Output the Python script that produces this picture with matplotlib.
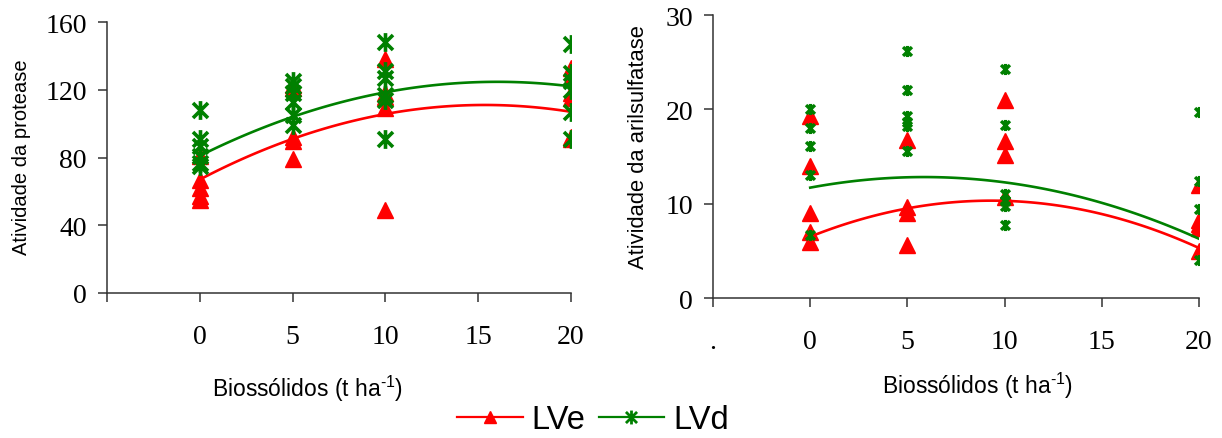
import numpy as np
import matplotlib
matplotlib.use('Agg')
import matplotlib.pyplot as plt
from matplotlib.path import Path
from matplotlib.lines import Line2D

plt.rcParams['font.family'] = ['Liberation Sans', 'DejaVu Sans']
plt.rcParams['mathtext.fontset'] = 'custom'
plt.rcParams['mathtext.rm'] = 'Liberation Sans'
plt.rcParams['mathtext.default'] = 'regular'

# doses of biosolids (t/ha)
doses = [0, 5, 10, 20]

# protease activity, one list per dose
prot_lve = [
    [55, 57, 62, 67, 81],
    [79, 90, 92, 121, 123],
    [49, 109, 116, 118, 138],
    [91, 92, 115, 118, 127, 133],
]
prot_lvd = [
    [108, 91, 87, 81, 77, 75],
    [125, 122, 118, 113, 105, 99],
    [148, 131, 127, 117, 114, 91],
    [147, 130, 125, 120, 107, 91],
]

# arylsulfatase activity
aril_lve = [
    [19.3, 14.0, 9.0, 7.0, 5.9],
    [16.8, 9.7, 9.0, 5.6],
    [21.0, 16.6, 15.2, 10.7],
    [12.0, 8.3, 7.8, 7.4, 5.0],
]
aril_lvd = [
    [20.0, 18.0, 16.1, 13.0, 6.7],
    [26.2, 22.0, 19.3, 18.7, 18.2, 15.6],
    [24.3, 18.3, 11.0, 10.3, 9.8, 7.7],
    [19.7, 12.4, 9.4, 4.0],
]

# quadratic trend lines: a + b*x + c*x^2
prot_fit_lve = [67.0, 5.733, -0.1867]
prot_fit_lvd = [81.0, 5.45, -0.17]
aril_fit_lve = [6.5, 0.82, -0.044]
aril_fit_lvd = [11.7, 0.383, -0.0327]

xticks = [-5, 0, 5, 10, 15, 20]
RED = '#ff0000'
GREEN = '#008000'

# excel-like asterisk: vertical bar plus an x
ast = Path([(0, -1), (0, 1), (-0.8, -0.8), (0.8, 0.8), (-0.8, 0.8), (0.8, -0.8)],
           [Path.MOVETO, Path.LINETO, Path.MOVETO, Path.LINETO, Path.MOVETO, Path.LINETO])

fig = plt.figure(figsize=(12.22, 4.39), dpi=100)
ax1 = fig.add_axes([0.0876, 0.3303, 0.3797, 0.6173])
ax2 = fig.add_axes([0.5835, 0.3189, 0.3977, 0.6446])


def scatter_groups(ax, groups, **kw):
    for d, vals in zip(doses, groups):
        ax.plot([d] * len(vals), vals, linestyle='none', **kw)


def trend(ax, coef, color):
    xs = np.linspace(0, 20, 100)
    ys = coef[0] + coef[1] * xs + coef[2] * xs ** 2
    ax.plot(xs, ys, color=color, lw=1.9, zorder=4)


for ax, lve, lvd, flve, flvd, ams, amew in [
    (ax1, prot_lve, prot_lvd, prot_fit_lve, prot_fit_lvd, 13.5, 2.6),
    (ax2, aril_lve, aril_lvd, aril_fit_lve, aril_fit_lvd, 8, 2.4),
]:
    scatter_groups(ax, lve, marker='^', ms=12, color=RED, zorder=3)
    trend(ax, flve, RED)
    scatter_groups(ax, lvd, marker=ast, ms=ams, mew=amew, color=GREEN,
                   mfc='none', zorder=5)
    trend(ax, flvd, GREEN)

    for s in ['top', 'right']:
        ax.spines[s].set_visible(False)
    for s in ['left', 'bottom']:
        ax.spines[s].set_color('#333333')
        ax.spines[s].set_linewidth(1.1)
    ax.set_xlim(-5, 20)
    ax.set_xticks(xticks)
    ax.tick_params(axis='both', colors='#333333', labelcolor='black',
                   length=6.5, width=1.1, labelsize=20)
    ax.tick_params(axis='x', pad=16)
    ax.tick_params(axis='y', pad=8)
    for lab in ax.get_xticklabels() + ax.get_yticklabels():
        lab.set_family('Liberation Serif')

ax1.set_ylim(0, 160)
ax1.set_yticks([0, 40, 80, 120, 160])
ax1.set_xticklabels(['', '0', '5', '10', '15', '20'], family='Liberation Serif')
ax2.set_ylim(0, 30)
ax2.set_yticks([0, 10, 20, 30])
ax2.set_xticklabels(['.', '0', '5', '10', '15', '20'], family='Liberation Serif')

xlab = 'Biossólidos (t ha$^{\\text{-1}}$)'
fig.text(308 / 1222, 1 - 389 / 439, xlab, ha='center', va='center', fontsize=16.5)
fig.text(978 / 1222, 1 - 386 / 439, xlab, ha='center', va='center', fontsize=16.5)
fig.text(22 / 1222, 1 - 157 / 439, 'Atividade da protease', rotation=90,
         ha='center', va='center', fontsize=14.5)
fig.text(639 / 1222, 1 - 147 / 439, 'Atividade da arilsulfatase', rotation=90,
         ha='center', va='center', fontsize=15.8)

handles = [
    Line2D([], [], color=RED, lw=1.6, marker='^', ms=8),
    Line2D([], [], color=GREEN, lw=1.6, marker=ast, ms=10, mew=2),
]
fig.legend(handles, ['LVe', 'LVd'], loc='center', bbox_to_anchor=(593 / 1222, 1 - 421 / 439),
           ncol=2, frameon=False, fontsize=23.5, handlelength=2.0, handletextpad=0.28,
           columnspacing=0.4, borderpad=0, borderaxespad=0)

fig.savefig('out.png', dpi=100)
